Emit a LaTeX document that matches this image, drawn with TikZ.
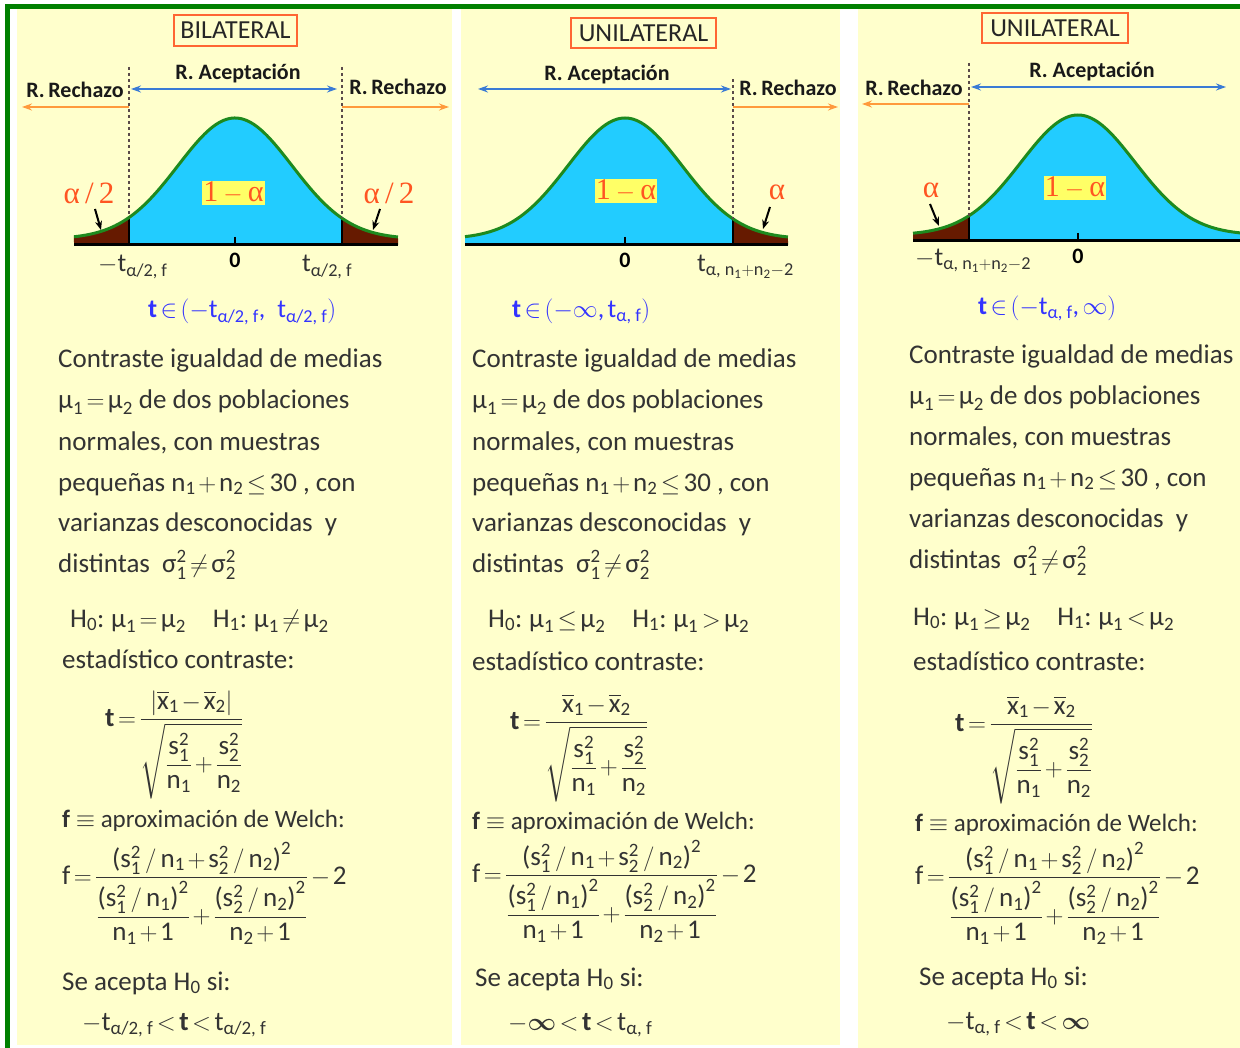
\documentclass[tikz,border=0pt]{standalone}
\usepackage{amsmath}
\usepackage{fontspec}
\setmainfont{Carlito}
\newfontfamily\serif{Liberation Serif}
\usetikzlibrary{arrows.meta}
\definecolor{bg}{HTML}{FFFFCC}
\definecolor{grn}{HTML}{008000}
\definecolor{txt}{HTML}{333333}
\definecolor{blu}{HTML}{3333FF}
\definecolor{org}{HTML}{FF5522}
\definecolor{orgbox}{HTML}{FF6633}
\definecolor{cyanf}{HTML}{22CCFF}
\definecolor{brn}{HTML}{661A00}
\definecolor{crv}{HTML}{1E8A1E}
\definecolor{arrb}{HTML}{3A7BD5}
\definecolor{arro}{HTML}{FF9A3C}
\definecolor{hl}{HTML}{FFFF66}
\definecolor{dsh}{HTML}{5A4A4A}
\medmuskip=2mu plus 1mu minus 1mu
\thickmuskip=2.5mu plus 2mu
\newcommand{\T}[1]{\text{#1}}
\newcommand{\bt}{\text{\bfseries t}}
\newcommand{\mua}{\T{μ}_{\T{1}}}
\newcommand{\mub}{\T{μ}_{\T{2}}}
\newcommand{\na}{\T{n}_{\T{1}}}
\newcommand{\nb}{\T{n}_{\T{2}}}
\newcommand{\ssa}{\T{s}^{\T{2}}_{\T{1}}}
\newcommand{\ssb}{\T{s}^{\T{2}}_{\T{2}}}
\newcommand{\xa}{\overline{\T{x}}_{\T{1}}}
\newcommand{\xb}{\overline{\T{x}}_{\T{2}}}
\newcommand{\sigA}{\T{σ}^{\T{2}}_{\T{1}}}
\newcommand{\sigB}{\T{σ}^{\T{2}}_{\T{2}}}
\newcommand{\Hz}{\T{H}_{\T{0}}}
\newcommand{\Ho}{\T{H}_{\T{1}}}
\newcommand{\welch}{\T{f}=\dfrac{\T{(}\ssa\,/\,\na+\ssb\,/\,\nb\T{)}^{\T{2}}}{\dfrac{\T{(}\ssa\,/\,\na\T{)}^{\T{2}}}{\na+\T{1}}+\dfrac{\T{(}\ssb\,/\,\nb\T{)}^{\T{2}}}{\nb+\T{1}}}-\T{2}}
\newcommand{\denom}{\sqrt{\dfrac{\ssa}{\na}+\dfrac{\ssb}{\nb}}}
\begin{document}
\begin{tikzpicture}[x=1pt,y=-1pt,
  body/.style={anchor=base west, inner sep=0pt, text=txt, font=\fontsize{27}{32}\selectfont},
  smallbody/.style={body, font=\fontsize{25}{28}\selectfont},
  region/.style={inner sep=0pt, text=black!90, font=\bfseries\fontsize{22}{25}\selectfont},
  titlebox/.style={draw=orgbox, line width=1.5pt, fill=bg, inner sep=0pt, text=black!85, font=\fontsize{26}{30}\selectfont},
  zero/.style={inner sep=0pt, font=\bfseries\fontsize{22}{26}\selectfont},
  tlab/.style={anchor=base west, inner sep=0pt, text=txt, font=\fontsize{26}{30}\selectfont},
  blab/.style={anchor=base west, inner sep=0pt, text=blu, font=\fontsize{26}{30}\selectfont},
  alab/.style={inner sep=0pt, text=org, font=\serif\fontsize{31}{34}\selectfont},
  onealab/.style={inner sep=1pt, fill=hl, text=org, font=\serif\fontsize{30}{32}\selectfont},
  barrow/.style={draw=arrb, line width=1.8pt, arrows={Stealth[length=10pt,width=7pt]-Stealth[length=10pt,width=7pt]}},
  oarrow/.style={draw=arro, line width=1.8pt, -{Stealth[length=10pt,width=7pt]}},
  karrow/.style={draw=black, line width=2pt, -{Stealth[length=9pt,width=7pt]}},
  dline/.style={draw=dsh, line width=1.5pt, dash pattern=on 3pt off 3pt},
  crvline/.style={draw=crv, line width=3pt},
  axisline/.style={draw=black, line width=3pt}]
\useasboundingbox (0,0) rectangle (1240,1048);
\fill[white] (0,0) rectangle (1240,1048);
\fill[grn] (5,4) rectangle (1240,9);
\fill[grn] (5,4) rectangle (10,1048);
\fill[bg] (17,9) rectangle (452,1045);
\fill[bg] (461,9) rectangle (840,1045);
\fill[bg] (858,9) rectangle (1240,1048);

% ================= PANEL 1 =================
\node[titlebox, minimum width=123pt, minimum height=31pt] (t1) at (235.5,30.5) {BILATERAL};
\fill[cyanf] (129,245) -- plot[domain=-1.8596:1.8772,samples=80] ({235+57*\x},{239-121*exp(-\x*\x/2)}) -- (342,245) -- cycle;
\fill[brn] (74,245) -- plot[domain=-2.8246:-1.8596,samples=30] ({235+57*\x},{239-121*exp(-\x*\x/2)}) -- (129,245) -- cycle;
\fill[brn] (342,245) -- plot[domain=1.8772:2.8596,samples=30] ({235+57*\x},{239-121*exp(-\x*\x/2)}) -- (398,245) -- cycle;
\draw[line width=2pt] (129,245) -- (129,217.5);
\draw[line width=2pt] (342,245) -- (342,218.2);
\draw[crvline] plot[domain=-2.8246:2.8596,samples=120] ({235+57*\x},{239-121*exp(-\x*\x/2)});
\draw[axisline] (74,245) -- (398,245);
\draw[line width=2pt] (235,237) -- (235,245);
\draw[dline] (129,67) -- (129,217);
\draw[dline] (342,67) -- (342,218);
\coordinate (b1L) at (131,89); \coordinate (b1R) at (337,89);
\draw[barrow] (b1L) -- (b1R);
\coordinate (o1La) at (129,107); \coordinate (o1Lb) at (22,107);
\draw[oarrow] (o1La) -- (o1Lb);
\coordinate (o1Ra) at (342,107); \coordinate (o1Rb) at (449,107);
\draw[oarrow] (o1Ra) -- (o1Rb);
\node[region] (ra1) at (238,74) {R. Aceptación};
\node[region] (rr1L) at (75,90) {R.\,Rechazo};
\node[region] (rr1R) at (398,87) {R.\,Rechazo};
\node[alab] (al1L) at (89,193) {α\,/\,2};
\node[alab] (al1R) at (389,193) {α\,/\,2};
\coordinate (k1La) at (95,209); \coordinate (k1Lb) at (101,230);
\draw[karrow] (k1La) -- (k1Lb);
\coordinate (k1Ra) at (380,209); \coordinate (k1Rb) at (373,230);
\draw[karrow] (k1Ra) -- (k1Rb);
\node[onealab] (one1) at (233.5,193) {1\,$-$\,α};
\node[zero] (z1) at (235,260) {0};
\node[tlab] (tl1L) at (98,272) {$-\T{t}_{\T{α/2, f}}$};
\node[tlab] (tl1R) at (302,272) {$\T{t}_{\T{α/2, f}}$};
\node[blab] (int1) at (148,318) {$\bt\in(-\T{t}_{\T{α/2, f}}\T{,}\hspace{12pt}\T{t}_{\T{α/2, f}})$};
\node[body] (p1l1) at (58,368) {Contraste igualdad de medias};
\node[body] (p1l2) at (58,409) {$\mua=\mub$ de dos poblaciones};
\node[body] (p1l3) at (58,450) {normales, con muestras};
\node[body] (p1l4) at (58,491) {pequeñas $\na+\nb\le\T{30}$ , con};
\node[body] (p1l5) at (58,531) {varianzas desconocidas\ \ y};
\node[body] (p1l6) at (58,572) {distintas\ \ $\sigA\ne\sigB$};
\node[body] (p1h) at (70,627) {$\Hz\T{:}\;\;\mua=\mub\quad\Ho\T{:}\;\;\mua\ne\mub$};
\node[body] (p1e) at (62,668) {estadístico contraste:};
\node[body] (p1t) at (105,726) {$\bt=\dfrac{\left|\xa-\xb\right|}{\denom}$};
\node[smallbody] (p1w) at (62,827) {\textbf{f}\ $\equiv$\ aproximación de Welch:};
\node[body] (p1f) at (62,884) {$\welch$};
\node[body] (p1s) at (62,990) {Se acepta $\Hz$ si:};
\node[body] (p1c) at (82,1030) {$-\T{t}_{\T{α/2, f}}<\bt<\T{t}_{\T{α/2, f}}$};

% ================= PANEL 2 =================
\node[titlebox, minimum width=145pt, minimum height=30pt] (t2) at (643.5,33) {UNILATERAL};
\fill[cyanf] (465,245) -- plot[domain=-2.807:1.8947,samples=100] ({625+57*\x},{239-121*exp(-\x*\x/2)}) -- (733,245) -- cycle;
\fill[brn] (733,245) -- plot[domain=1.8947:2.8596,samples=30] ({625+57*\x},{239-121*exp(-\x*\x/2)}) -- (788,245) -- cycle;
\draw[line width=2pt] (733,245) -- (733,218.9);
\draw[crvline] plot[domain=-2.807:2.8596,samples=120] ({625+57*\x},{239-121*exp(-\x*\x/2)});
\draw[axisline] (465,245) -- (788,245);
\draw[line width=2pt] (625,237) -- (625,245);
\draw[dline] (733,79) -- (733,219);
\coordinate (b2L) at (478,89); \coordinate (b2R) at (731,89);
\draw[barrow] (b2L) -- (b2R);
\coordinate (o2a) at (733,107); \coordinate (o2b) at (838,107);
\draw[oarrow] (o2a) -- (o2b);
\node[region] (ra2) at (607,75) {R. Aceptación};
\node[region] (rr2) at (788,88) {R.\,Rechazo};
\node[alab] (al2) at (777,192) {α};
\coordinate (k2a) at (770,207); \coordinate (k2b) at (763,229);
\draw[karrow] (k2a) -- (k2b);
\node[onealab] (one2) at (626,191) {1\,$-$\,α};
\node[zero] (z2) at (625,260) {0};
\node[tlab] (tl2) at (697,272) {$\T{t}_{\T{α, }\na+\nb-\T{2}}$};
\node[blab] (int2) at (512,318) {$\bt\in(-\infty\T{,}\;\T{t}_{\T{α, f}})$};
\node[body] (p2l1) at (472,368) {Contraste igualdad de medias};
\node[body] (p2l2) at (472,409) {$\mua=\mub$ de dos poblaciones};
\node[body] (p2l3) at (472,450) {normales, con muestras};
\node[body] (p2l4) at (472,491) {pequeñas $\na+\nb\le\T{30}$ , con};
\node[body] (p2l5) at (472,531) {varianzas desconocidas\ \ y};
\node[body] (p2l6) at (472,572) {distintas\ \ $\sigA\ne\sigB$};
\node[body] (p2h) at (488,627) {$\Hz\T{:}\;\;\mua\le\mub\quad\Ho\T{:}\;\;\mua>\mub$};
\node[body] (p2e) at (472,670) {estadístico contraste:};
\node[body] (p2t) at (510,729) {$\bt=\dfrac{\xa-\xb}{\denom}$};
\node[smallbody] (p2w) at (472,829) {\textbf{f}\ $\equiv$\ aproximación de Welch:};
\node[body] (p2f) at (472,882) {$\welch$};
\node[body] (p2s) at (475,986) {Se acepta $\Hz$ si:};
\node[body] (p2c) at (508,1030) {$-\boldsymbol{\infty}<\bt<\T{t}_{\T{α, f}}$};

% ================= PANEL 3 =================
\node[titlebox, minimum width=146pt, minimum height=30pt] (t3) at (1055,28) {UNILATERAL};
\fill[cyanf] (969,241) -- plot[domain=-1.9123:2.842,samples=100] ({1078+57*\x},{235-120*exp(-\x*\x/2)}) -- (1240,241) -- cycle;
\fill[brn] (913,241) -- plot[domain=-2.8947:-1.9123,samples=30] ({1078+57*\x},{235-120*exp(-\x*\x/2)}) -- (969,241) -- cycle;
\draw[line width=2pt] (969,241) -- (969,215.7);
\draw[crvline] plot[domain=-2.8947:2.842,samples=120] ({1078+57*\x},{235-120*exp(-\x*\x/2)});
\draw[axisline] (913,241) -- (1240,241);
\draw[line width=2pt] (1078,233) -- (1078,241);
\draw[dline] (969,63) -- (969,216);
\coordinate (b3L) at (971,87); \coordinate (b3R) at (1226,87);
\draw[barrow] (b3L) -- (b3R);
\coordinate (o3a) at (969,104); \coordinate (o3b) at (862,104);
\draw[oarrow] (o3a) -- (o3b);
\node[region] (ra3) at (1092,72) {R. Aceptación};
\node[region] (rr3) at (914,88) {R.\,Rechazo};
\node[alab] (al3) at (931,190) {α};
\coordinate (k3a) at (930,204); \coordinate (k3b) at (939,226);
\draw[karrow] (k3a) -- (k3b);
\node[onealab] (one3) at (1075,188) {1\,$-$\,α};
\node[zero] (z3) at (1078,256) {0};
\node[tlab] (tl3) at (915,266) {$-\T{t}_{\T{α, }\na+\nb-\T{2}}$};
\node[blab] (int3) at (978,315) {$\bt\in(-\T{t}_{\T{α, f}}\T{,}\;\infty)$};
\node[body] (p3l1) at (909,364) {Contraste igualdad de medias};
\node[body] (p3l2) at (909,405) {$\mua=\mub$ de dos poblaciones};
\node[body] (p3l3) at (909,446) {normales, con muestras};
\node[body] (p3l4) at (909,486) {pequeñas $\na+\nb\le\T{30}$ , con};
\node[body] (p3l5) at (909,527) {varianzas desconocidas\ \ y};
\node[body] (p3l6) at (909,568) {distintas\ \ $\sigA\ne\sigB$};
\node[body] (p3h) at (913,625) {$\Hz\T{:}\;\;\mua\ge\mub\quad\Ho\T{:}\;\;\mua<\mub$};
\node[body] (p3e) at (913,670) {estadístico contraste:};
\node[body] (p3t) at (955,731) {$\bt=\dfrac{\xa-\xb}{\denom}$};
\node[smallbody] (p3w) at (915,831) {\textbf{f}\ $\equiv$\ aproximación de Welch:};
\node[body] (p3f) at (915,884) {$\welch$};
\node[body] (p3s) at (919,985) {Se acepta $\Hz$ si:};
\node[body] (p3c) at (946,1029) {$-\T{t}_{\T{α, f}}<\bt<\boldsymbol{\infty}$};
\end{tikzpicture}
\end{document}
